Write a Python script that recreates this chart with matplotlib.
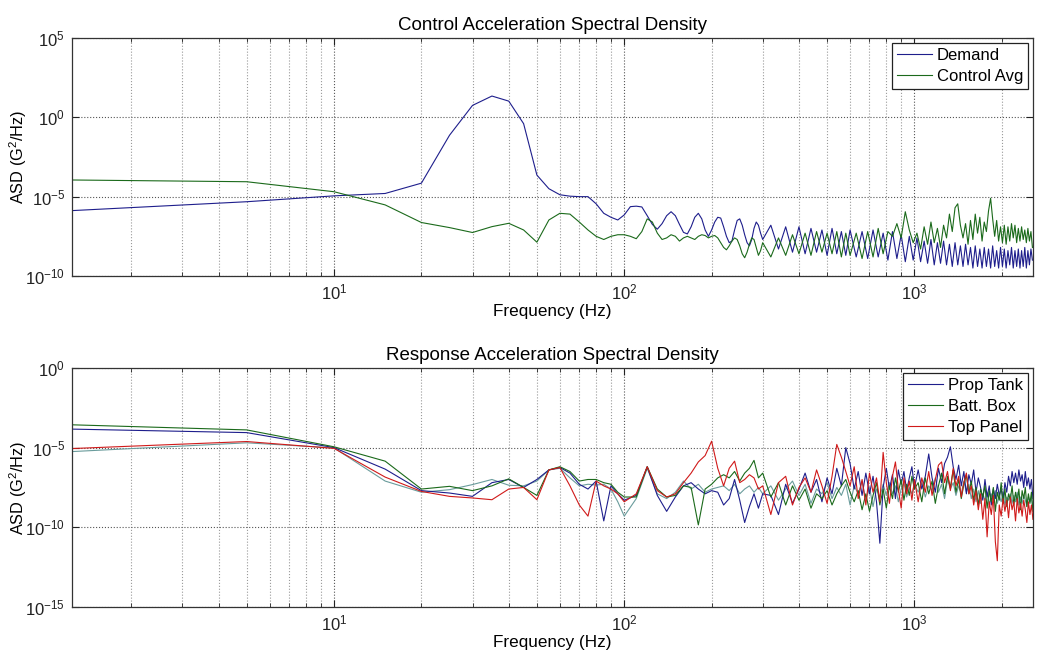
#!/usr/bin/env python3
# -*- coding: utf-8 -*-
"""
Control / Response acceleration spectral density (ASD) - two log-log panels
"""

import numpy as np
import matplotlib
matplotlib.use('Agg')
import matplotlib.pyplot as plt
from matplotlib.ticker import NullLocator, LogLocator

plt.rcParams['font.family'] = ['Liberation Sans', 'DejaVu Sans']
plt.rcParams['mathtext.fontset'] = 'custom'
plt.rcParams['mathtext.rm'] = 'Liberation Sans'
plt.rcParams['mathtext.it'] = 'Liberation Sans:italic'

# ---------------- control panel data (log10 of ASD, G^2/Hz) ----------------
CTRL_FREQ = [
    1.25,
    5, 10, 15, 20, 25, 30, 35, 40, 45, 50,
    55, 60, 65, 70, 75, 80, 85, 90, 95, 100,
    105, 110, 115, 120, 125, 130, 135, 140, 145, 150,
    155, 160, 165, 170, 175, 180, 185, 190, 195, 200,
    205, 210, 215, 220, 225, 230, 235, 240, 245, 250,
    255, 260, 265, 270, 275, 280, 285, 290, 295, 300,
    320, 340, 360, 380, 400, 420, 440, 460, 480, 500, 520, 540, 560, 580, 600,
    630, 660, 690, 720, 750, 780, 810, 840, 870, 900, 930, 960, 990,
    1020, 1050, 1080, 1110, 1140, 1170, 1200, 1230, 1260, 1290,
    1320, 1350, 1380, 1410, 1440, 1470, 1500, 1530, 1560, 1590,
    1620, 1650, 1680, 1710, 1740, 1770, 1800, 1830, 1860, 1890,
    1920, 1950, 1980, 2010, 2040, 2070, 2100, 2130, 2160, 2190,
    2220, 2250, 2280, 2310, 2340, 2370, 2400, 2430, 2460, 2490,
    2520, 2550,
]

DEMAND_LOG = [
    -5.88,
    -5.32, -4.95, -4.80, -4.15, -1.13, 0.75, 1.34, 1.02, -0.40, -3.64,
    -4.50, -4.88, -4.97, -5.00, -5.00, -5.45, -6.05, -6.30, -6.47, -6.15,
    -5.63, -5.60, -5.65, -6.20, -6.75, -7.05, -6.70, -6.20, -5.95, -6.20,
    -6.75, -7.25, -7.35, -6.90, -6.30, -6.05, -6.40, -7.10, -7.50, -7.10,
    -6.60, -6.30, -6.35, -6.90, -7.50, -7.90, -7.80, -7.10, -6.50, -6.40,
    -6.80, -7.40, -7.90, -8.10, -7.70, -7.00, -6.60, -6.80, -7.30, -7.70,
    -6.8, -8.3, -6.9, -8.5, -6.9, -8.6, -7.0, -8.5, -7.1, -8.7, -7.0, -8.6, -7.2, -8.7, -7.1,
    -8.8, -7.2, -8.9, -7.1, -8.8, -7.3, -9.0, -7.2, -8.9, -7.4, -9.1, -7.5, -9.0,
    -7.6, -9.1, -7.8, -9.2, -7.7, -9.3, -7.9, -9.2, -7.8, -9.3,
    -8.0, -9.4, -7.9, -9.3, -8.1, -9.4, -8.0, -9.3, -8.2, -9.5,
    -8.1, -9.4, -8.3, -9.5, -8.2, -9.4, -8.3, -9.5, -8.1, -9.4,
    -8.4, -9.5, -8.2, -9.4, -8.3, -9.5, -8.4, -9.3, -8.2, -9.5,
    -8.4, -9.4, -8.3, -9.5, -8.4, -9.4, -8.2, -9.5, -8.4, -9.3,
    -8.3, -9.0,
]

CONTROL_AVG_LOG = [
    -3.95,
    -4.06, -4.69, -5.52, -6.63, -6.95, -7.26, -6.89, -6.68, -7.10, -7.87,
    -6.47, -6.05, -6.10, -6.60, -7.10, -7.50, -7.70, -7.50, -7.40, -7.40,
    -7.50, -7.65, -7.20, -6.40, -6.60, -7.30, -7.70, -7.60, -7.40, -7.50,
    -7.80, -7.60, -7.50, -7.60, -7.70, -7.50, -7.40, -7.45, -7.60, -7.50,
    -7.45, -7.60, -7.90, -8.20, -8.35, -8.10, -7.80, -7.60, -7.70, -8.10,
    -8.60, -8.85, -8.50, -8.00, -7.60, -7.70, -8.20, -8.70, -8.40, -7.90,
    -8.8, -7.6, -8.7, -7.4, -8.6, -7.3, -8.7, -7.2, -8.5, -7.3, -8.6, -7.2, -8.8, -7.3, -8.7,
    -7.3, -8.9, -7.2, -8.8, -7.0, -8.6, -7.2, -7.5, -6.7, -7.6, -5.95, -7.1, -7.9,
    -7.3, -8.3, -6.9, -8.0, -6.6, -7.9, -7.0, -8.2, -6.8, -7.6,
    -6.1, -7.2, -5.7, -5.45, -6.8, -7.6, -6.7, -8.0, -6.5, -7.7,
    -6.1, -7.3, -6.3, -7.8, -6.6, -7.2, -5.9, -5.1, -6.4, -7.5,
    -6.5, -7.8, -6.9, -7.9, -6.8, -8.0, -6.9, -7.8, -6.7, -7.6,
    -6.8, -7.9, -7.0, -7.8, -6.9, -7.7, -7.1, -7.9, -7.0, -7.8,
    -7.2, -8.2,
]

CTRL_LABELS = ['Demand', 'Control Avg']

# ---------------- response panel data (log10 of ASD, G^2/Hz) ----------------
RESP_FREQ = [
    1.25,
    5, 10, 15, 20, 25, 30, 35, 40, 45, 50,
    55, 60, 65, 70, 75, 80, 85, 90, 95, 100,
    110, 120, 130, 140, 150, 160, 170, 180, 190, 200,
    210, 220, 230, 240, 250, 260, 270, 280, 290, 300,
    320, 340, 360, 380, 400, 420, 440, 460, 480, 500,
    520, 540, 560, 580, 600, 620, 640, 660, 680, 700,
    720, 740, 760, 780, 800, 820, 840, 860, 880, 900,
    920, 940, 960, 980, 1000,
    1030, 1060, 1090, 1120, 1150, 1180, 1210, 1240, 1270, 1300,
    1330, 1360, 1390, 1420, 1450, 1480, 1510, 1540, 1570, 1600,
    1630, 1660, 1690, 1720, 1750, 1780, 1810, 1840, 1870, 1900,
    1930, 1960, 1990, 2020, 2050, 2080, 2110, 2140, 2170, 2200,
    2230, 2260, 2290, 2320, 2350, 2380, 2410, 2440, 2470, 2500,
    2530, 2560,
]

PROP_TANK_LOG = [
    -3.84,
    -4.06, -5.00, -6.35, -7.70, -7.85, -8.06, -7.20, -7.00, -7.50, -7.00,
    -6.40, -6.25, -6.60, -7.30, -7.60, -7.10, -9.60, -7.40, -7.90, -8.30,
    -8.00, -6.20, -8.00, -9.00, -8.10, -7.40, -7.20, -7.60, -7.90, -7.70,
    -7.80, -8.60, -8.20, -7.00, -8.30, -9.70, -8.70, -7.90, -8.80, -7.90,
    -8.0, -9.2, -7.3, -8.5, -7.6, -6.6, -7.8, -7.0, -8.4, -6.9,
    -7.9, -6.3, -7.4, -5.0, -6.0, -7.6, -6.5, -8.0, -6.6, -7.9,
    -6.8, -8.4, -11.0, -7.5, -6.3, -7.6, -6.7, -8.2, -6.4, -7.3,
    -6.5, -7.7, -6.9, -6.2, -7.5,
    -6.4, -7.6, -6.8, -5.4, -6.9, -7.8, -6.3, -7.2, -6.0, -5.6,
    -4.95, -6.2, -7.0, -6.1, -7.4, -6.5, -7.9, -6.7, -7.3, -6.4,
    -7.8, -6.9, -7.5, -8.3, -7.0, -8.1, -7.4, -8.6, -7.6, -8.2,
    -7.3, -8.0, -7.6, -8.3, -7.2, -7.8, -6.8, -7.4, -6.5, -7.2,
    -6.6, -7.3, -6.4, -7.1, -6.7, -7.5, -6.5, -7.4, -6.9, -7.6,
    -7.0, -8.2,
]

BATT_BOX_LOG = [
    -3.57,
    -3.89, -4.95, -5.85, -7.60, -7.43, -7.70, -7.40, -6.96, -7.50, -8.00,
    -6.40, -6.20, -6.50, -7.10, -7.00, -7.00, -7.20, -7.30, -7.80, -8.10,
    -8.10, -6.20, -7.60, -8.10, -8.00, -7.40, -7.50, -9.85, -7.60, -7.30,
    -6.90, -6.70, -6.90, -6.50, -7.10, -6.60, -6.30, -5.80, -6.90, -6.60,
    -8.1, -7.2, -8.6, -7.4, -8.3, -7.6, -8.8, -7.9, -8.2, -7.7,
    -8.6, -7.9, -7.4, -7.0, -7.8, -8.4, -7.7, -8.9, -7.9, -9.0,
    -8.0, -7.2, -8.6, -7.6, -8.8, -7.4, -8.2, -6.9, -7.8, -7.0,
    -8.3, -7.3, -8.0, -6.8, -7.6,
    -7.2, -8.4, -6.9, -7.9, -7.1, -8.5, -7.4, -6.6, -7.9, -6.8,
    -7.5, -6.4, -7.8, -7.0, -8.2, -7.3, -6.7, -7.9, -7.1, -8.3,
    -7.5, -8.6, -7.6, -8.1, -7.4, -8.8, -7.7, -8.4, -7.5, -9.0,
    -7.8, -8.3, -7.2, -8.5, -7.6, -8.7, -7.9, -8.3, -7.4, -8.6,
    -7.8, -8.4, -7.6, -8.9, -7.7, -8.2, -7.5, -8.7, -7.9, -8.5,
    -7.8, -9.0,
]

TOP_PANEL_LOG = [
    -5.06,
    -4.62, -5.05, -6.85, -7.75, -8.06, -8.16, -8.27, -7.60, -7.50, -8.27,
    -6.40, -6.25, -7.40, -8.60, -9.30, -7.10, -7.40, -7.60, -7.90, -8.40,
    -7.90, -6.20, -7.70, -8.10, -7.90, -7.20, -6.60, -5.90, -5.50, -4.60,
    -6.30, -7.40, -6.30, -5.85, -7.20, -7.00, -6.70, -6.90, -7.60, -7.40,
    -9.2, -7.2, -6.8, -8.6, -7.5, -6.9, -7.8, -6.4, -7.4, -8.5,
    -6.8, -4.8, -5.6, -6.5, -7.4, -6.2, -8.2, -7.0, -8.6, -6.6,
    -7.8, -6.9, -8.4, -5.3, -7.2, -8.5, -6.8, -5.9, -7.6, -8.8,
    -6.9, -7.9, -7.1, -8.3, -7.0,
    -8.4, -6.9, -7.8, -6.5, -8.0, -7.0, -6.1, -5.9, -7.2, -6.5,
    -7.7, -6.3, -7.4, -6.8, -8.1, -7.2, -6.6, -7.9, -7.4, -8.6,
    -7.7, -8.9, -7.9, -9.5, -8.2, -10.6, -8.4, -9.2, -8.0, -10.9,
    -12.1, -8.6, -9.3, -8.2, -9.0, -8.3, -9.4, -8.1, -8.9, -8.4,
    -9.6, -8.2, -9.1, -8.5, -9.3, -8.3, -8.9, -9.7, -8.4, -9.2,
    -8.6, -9.5,
]

# fourth trace on the plot, not named in the legend
EXTRA_LOG = [
    -5.25,
    -4.70, -5.02, -7.10, -7.80, -7.64, -7.32, -7.00, -7.36, -7.40, -7.10,
    -6.40, -6.30, -6.90, -7.40, -7.30, -7.35, -7.30, -7.60, -8.40, -9.30,
    -8.20, -6.30, -7.90, -8.20, -7.80, -7.10, -7.60, -7.30, -7.80, -7.60,
    -7.50, -7.40, -7.70, -7.30, -7.90, -7.60, -7.40, -7.80, -7.50, -7.90,
    -7.4, -8.3, -7.6, -7.1, -8.0, -7.3, -8.5, -7.6, -7.9, -7.2,
    -8.2, -7.5, -8.0, -7.3, -8.6, -7.4, -7.9, -7.1, -8.3, -7.5,
    -8.7, -7.6, -8.1, -7.3, -8.0, -7.2, -7.9, -7.4, -8.4, -7.6,
    -7.2, -8.1, -7.5, -7.9, -7.3,
    -7.8, -7.2, -8.1, -7.4, -7.7, -6.9, -7.8, -7.3, -8.2, -7.0,
    -7.6, -7.2, -8.0, -7.4, -7.9, -7.1, -7.8, -7.3, -8.2, -7.6,
    -8.4, -7.7, -8.5, -7.9, -8.3, -7.8, -8.6, -7.9, -8.3, -7.7,
    -8.5, -8.0, -8.4, -7.8, -8.6, -8.1, -8.3, -7.9, -8.5, -8.0,
    -8.4, -7.8, -8.6, -8.1, -8.5, -8.0, -8.3, -8.7, -8.1, -8.4,
    -8.2, -8.8,
]

RESP_LABELS = ['Prop Tank', 'Batt. Box', 'Top Panel']

# MATLAB-like colours, darkened like the jpeg look
BLUE = '#1e1e8c'
GREEN = '#1b6a1b'
RED = '#d01a1a'
TEAL = '#6a9c9c'


def style_axes(ax, ylo, yhi, yticks):
    """log-log axes with MATLAB style box, ticks and dotted grid"""
    ax.set_xscale('log')
    ax.set_yscale('log')
    ax.set_xlim(1.25, 2560)
    ax.set_ylim(ylo, yhi)
    ax.set_yticks(yticks)
    ax.yaxis.set_minor_locator(NullLocator())
    ax.xaxis.set_major_locator(LogLocator(base=10))
    ax.xaxis.set_minor_locator(LogLocator(base=10, subs=np.arange(2, 10)))
    ax.tick_params(which='both', direction='in', top=True, right=True,
                   labelsize=12, colors='#222222')
    ax.tick_params(which='major', length=5, pad=5)
    ax.tick_params(which='minor', length=3)
    ax.grid(True, which='major', ls=':', color='#555555', lw=0.8)
    ax.grid(True, which='minor', axis='x', ls=':', color='#9a9a9a', lw=0.8)
    for sp in ax.spines.values():
        sp.set_color('#333333')
        sp.set_linewidth(0.9)
    ax.set_xlabel('Frequency (Hz)', fontsize=12.3, labelpad=1)
    ax.set_ylabel(r'ASD (G$^\mathdefault{2}$/Hz)', fontsize=11.8)
    ax.yaxis.set_label_coords(-0.045, 0.5)


def add_legend(ax, handles, labels):
    leg = ax.legend(handles, labels, loc='upper right', fontsize=12,
                    fancybox=False, framealpha=1, edgecolor='#222222',
                    borderaxespad=0.3, borderpad=0.3, labelspacing=0.35,
                    handlelength=2.1, handletextpad=0.3)
    leg.get_frame().set_linewidth(0.9)
    return leg


def main():
    assert len(CTRL_FREQ) == len(DEMAND_LOG) == len(CONTROL_AVG_LOG)
    assert len(RESP_FREQ) == len(PROP_TANK_LOG) == len(BATT_BOX_LOG) \
        == len(TOP_PANEL_LOG) == len(EXTRA_LOG)

    fig = plt.figure(figsize=(10.63, 6.66), dpi=100)
    ax1 = fig.add_axes([0.0677, 0.5856, 0.904, 0.3574])
    ax2 = fig.add_axes([0.0677, 0.0886, 0.904, 0.359])

    # upper panel: control
    f1 = np.array(CTRL_FREQ)
    h1, = ax1.plot(f1, 10 ** np.array(DEMAND_LOG), color=BLUE, lw=0.8)
    h2, = ax1.plot(f1, 10 ** np.array(CONTROL_AVG_LOG), color=GREEN, lw=0.8)
    style_axes(ax1, 1e-10, 1e5, [1e-10, 1e-5, 1e0, 1e5])
    ax1.set_title('Control Acceleration Spectral Density', fontsize=13.5, pad=6)
    add_legend(ax1, [h1, h2], CTRL_LABELS)

    # lower panel: response
    f2 = np.array(RESP_FREQ)
    ax2.plot(f2, 10 ** np.array(EXTRA_LOG), color=TEAL, lw=0.8)
    g1, = ax2.plot(f2, 10 ** np.array(PROP_TANK_LOG), color=BLUE, lw=0.8)
    g2, = ax2.plot(f2, 10 ** np.array(BATT_BOX_LOG), color=GREEN, lw=0.8)
    g3, = ax2.plot(f2, 10 ** np.array(TOP_PANEL_LOG), color=RED, lw=0.8)
    style_axes(ax2, 1e-15, 1e0, [1e-15, 1e-10, 1e-5, 1e0])
    ax2.set_title('Response Acceleration Spectral Density', fontsize=13.5, pad=6)
    add_legend(ax2, [g1, g2, g3], RESP_LABELS)

    fig.savefig('out.png', dpi=100)


if __name__ == '__main__':
    main()
